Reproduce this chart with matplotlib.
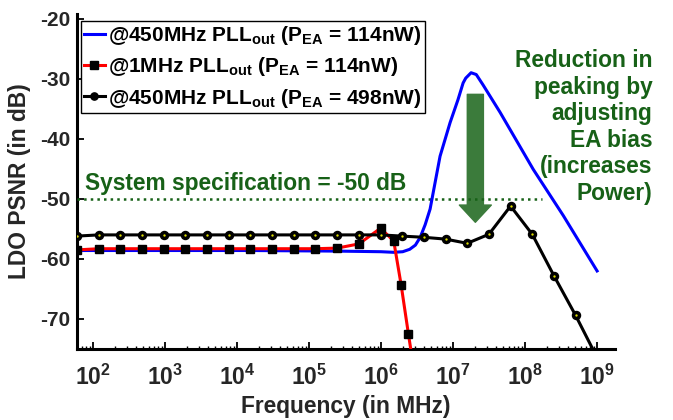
import math
import matplotlib
matplotlib.use("Agg")
import matplotlib.pyplot as plt
from matplotlib.ticker import FuncFormatter, FixedLocator, LogLocator, NullFormatter

plt.rcParams['font.family'] = ['Liberation Sans', 'DejaVu Sans']
plt.rcParams['font.weight'] = 'bold'
plt.rcParams['axes.unicode_minus'] = False
plt.rcParams['mathtext.fontset'] = 'custom'
plt.rcParams['mathtext.rm'] = 'Liberation Sans:bold'
plt.rcParams['mathtext.bf'] = 'Liberation Sans:bold'
plt.rcParams['mathtext.it'] = 'Liberation Sans:bold'
plt.rcParams['mathtext.default'] = 'bf'

# ---- data ----
# blue: @450MHz PLLout, P_EA = 114nW
freq_blue = [60, 1e3, 1.5e4, 2.5e5, 1e6, 1.5e6, 2e6, 2.5e6, 3e6, 3.5e6, 4.1e6,
             4.8e6, 6.6e6, 9.1e6, 1.17e7, 1.38e7, 1.5e7, 1.78e7, 2.1e7, 2.6e7,
             4.5e7, 1.3e8, 3.4e8, 1e9]
psnr_blue = [-58.6, -58.6, -58.6, -58.7, -58.8, -58.9, -58.8, -58.4, -57.7, -56.4,
             -54.3, -51.7, -42.9, -37.3, -33.5, -30.7, -29.9, -29.0, -29.3, -31.0,
             -35.6, -45.1, -52.8, -62.0]

# red: @1MHz PLLout, P_EA = 114nW
freq_red = [60, 120, 240, 480, 960, 1920, 3840, 7680, 15360, 30720, 61440,
            122880, 245760, 491520, 983040, 1.5e6, 1.9e6, 2.4e6, 3e6]
psnr_red = [-58.5, -58.3, -58.3, -58.3, -58.3, -58.3, -58.3, -58.3, -58.3, -58.3,
            -58.3, -58.3, -58.2, -57.5, -54.9, -57.0, -64.3, -72.5, -80.0]

# black: @450MHz PLLout, P_EA = 498nW
freq_black = [60, 120, 240, 480, 960, 1920, 3840, 7680, 15360, 30720, 61440,
              122880, 245760, 491520, 983040, 1966080, 3932160, 7864320,
              15728640, 31457280, 62914560, 125829120, 251658240, 503316480,
              1006632960]
psnr_black = [-56.2, -56.0, -56.0, -56.0, -56.0, -56.0, -56.0, -56.0, -56.0, -56.0,
              -56.0, -56.0, -56.0, -56.0, -56.0, -56.2, -56.4, -56.7, -57.4, -55.9,
              -51.2, -55.9, -62.8, -69.4, -76.5]

labels = [r"@450MHz PLL$_{out}$ (P$_{EA}$ = 114nW)",
          r"@1MHz PLL$_{out}$ (P$_{EA}$ = 114nW)",
          r"@450MHz PLL$_{out}$ (P$_{EA}$ = 498nW)"]

x_ticks = [1e2, 1e3, 1e4, 1e5, 1e6, 1e7, 1e8, 1e9]
y_ticks = [-70, -60, -50, -40, -30, -20]

spec_level = -50
spec_end = 1.74e8
arrow_freq = 2.04e7
arrow_from = -32.6
arrow_to = -53.9

green_txt = "#176117"
gray = "#262626"

fig = plt.figure(figsize=(6.73, 4.2), dpi=100)
ax = fig.add_axes([0.1144, 0.169, 0.7996, 0.798])

# arrow + spec line
ax.annotate("", xy=(arrow_freq, arrow_to), xytext=(arrow_freq, arrow_from),
            arrowprops=dict(arrowstyle="simple,head_width=1.15,head_length=0.62,tail_width=0.58",
                            color="#3b7b3b", shrinkA=0, shrinkB=0, mutation_scale=20),
            zorder=2)
ax.plot([60, spec_end], [spec_level, spec_level], ls=":", lw=1.8, color=green_txt, zorder=3)

ax.plot(freq_blue, psnr_blue, color="#0000ff", lw=2.2, label=labels[0], zorder=4)
ax.plot(freq_red, psnr_red, color="#ff0000", lw=2.2, marker="s", ms=6.2,
        mfc="black", mec="black", label=labels[1], zorder=5)
ax.plot(freq_black, psnr_black, color="black", lw=2.2, marker="o", ms=5.8,
        mfc="black", mec="black", label=labels[2], zorder=6)
ax.plot(freq_black, psnr_black, ls="none", marker="o", ms=0.7, color="#e0e000", zorder=7)

ax.set_xscale("log")
ax.set_xlim(60, 1.78e9)
ax.set_ylim(-75, -19.2)
ax.set_yticks(y_ticks)
ax.xaxis.set_major_locator(FixedLocator(x_ticks))
ax.xaxis.set_minor_locator(LogLocator(base=10, subs=range(2, 10), numticks=100))
ax.xaxis.set_minor_formatter(NullFormatter())
ax.xaxis.set_major_formatter(FuncFormatter(lambda v, p: r"$\mathbf{10^{%d}}$" % round(math.log10(v))))

for s in ["top", "right"]:
    ax.spines[s].set_visible(False)
for s in ["left", "bottom"]:
    ax.spines[s].set_linewidth(2.2)

ax.tick_params(axis="both", which="major", direction="in", length=5, width=1.3,
               labelcolor=gray)
ax.tick_params(axis="x", which="major", labelsize=16.5, pad=11)
ax.tick_params(axis="y", which="major", labelsize=15, pad=5)
ax.tick_params(axis="x", which="minor", direction="in", length=2.5, width=1.0)

ax.set_xlabel("Frequency (in MHz)", fontsize=16.4, fontweight="bold", color=gray, labelpad=4)
ax.set_ylabel("LDO PSNR (in dB)", fontsize=16.4, fontweight="bold", color=gray, labelpad=6)

leg = ax.legend(loc="upper left", bbox_to_anchor=(0.007, 0.979), borderaxespad=0,
                fontsize=15, handlelength=1.0, handletextpad=0.15, labelspacing=0.4,
                borderpad=0.15, fancybox=False, framealpha=1, edgecolor="black",
                markerscale=0.9)
leg.get_frame().set_linewidth(1.0)

ax.text(0.015, 0.475, "System specification = -50 dB", transform=ax.transAxes,
        fontsize=16.4, fontweight="bold", color=green_txt, va="baseline", ha="left")
ax.text(1.069, 0.895, "Reduction in\npeaking by\nadjusting\nEA bias\n(increases\nPower)",
        transform=ax.transAxes, fontsize=16.4, fontweight="bold", color=green_txt,
        ha="right", va="top", multialignment="right", linespacing=1.2, clip_on=False)

fig.savefig("out.png", dpi=100)
